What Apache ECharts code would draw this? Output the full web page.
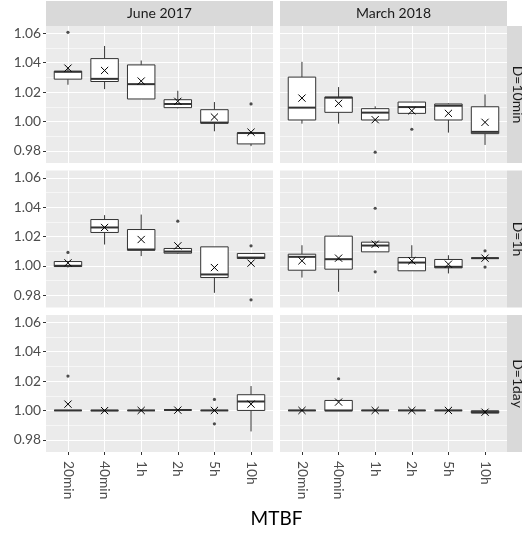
<!DOCTYPE html>
<html>
<head>
<meta charset="utf-8">
<script src="https://cdn.jsdelivr.net/npm/echarts@6/dist/echarts.min.js"></script>
<style>html,body{margin:0;padding:0;background:#fff;}#c{width:522px;height:533px;}</style>
</head>
<body>
<div id="c"></div>
<script>
const categories = ['20min', '40min', '1h', '2h', '5h', '10h'];
const periods = ['June 2017', 'March 2018'];
const durations = ['D=10min', 'D=1h', 'D=1day'];
const yTicks = [0.98, 1.00, 1.02, 1.04, 1.06];
const yMinorTicks = [0.99, 1.01, 1.03, 1.05];
const yRange = [0.9717, 1.065];

// box stats per category: [lower whisker, Q1, median, Q3, upper whisker]
const box_jun_10min = [
  [1.0250, 1.0288, 1.0338, 1.0342, 1.0360],
  [1.0220, 1.0272, 1.0290, 1.0428, 1.0514],
  [1.0153, 1.0153, 1.0254, 1.0385, 1.0415],
  [1.0089, 1.0094, 1.0119, 1.0148, 1.0209],
  [0.9933, 0.9988, 0.9992, 1.0080, 1.0132],
  [0.9832, 0.9847, 0.9921, 0.9922, 0.9922]
];
const mean_jun_10min = [1.0363, 1.0347, 1.0275, 1.0137, 1.0030, 0.9927];
const out_jun_10min = [[1, 1.0607], [6, 1.0119]];

const box_mar_10min = [
  [0.9985, 1.0010, 1.0094, 1.0302, 1.0406],
  [0.9985, 1.0062, 1.0162, 1.0166, 1.0234],
  [1.0010, 1.0010, 1.0060, 1.0087, 1.0103],
  [1.0050, 1.0055, 1.0098, 1.0132, 1.0132],
  [0.9924, 1.0010, 1.0107, 1.0119, 1.0123],
  [0.9840, 0.9917, 0.9929, 1.0100, 1.0184]
];
const mean_mar_10min = [1.0159, 1.0123, 1.0012, 1.0073, 1.0055, 0.9994];
const out_mar_10min = [[3, 0.9791], [4, 0.9947]];

const box_jun_1h = [
  [0.9989, 0.9996, 1.0001, 1.0030, 1.0030],
  [1.0146, 1.0228, 1.0262, 1.0316, 1.0346],
  [1.0067, 1.0107, 1.0112, 1.0248, 1.0350],
  [1.0082, 1.0087, 1.0098, 1.0119, 1.0119],
  [0.9817, 0.9921, 0.9942, 1.0130, 1.0130],
  [1.0051, 1.0051, 1.0057, 1.0085, 1.0085]
];
const mean_jun_1h = [1.0021, 1.0262, 1.0180, 1.0137, 0.9989, 1.0019];
const out_jun_1h = [[1, 1.0092], [4, 1.0305], [6, 1.0137], [6, 0.9769]];

const box_mar_1h = [
  [0.9921, 0.9971, 1.0062, 1.0080, 1.0141],
  [0.9824, 0.9978, 1.0046, 1.0203, 1.0207],
  [1.0096, 1.0096, 1.0139, 1.0162, 1.0171],
  [0.9967, 0.9967, 1.0023, 1.0057, 1.0141],
  [0.9949, 0.9987, 0.9994, 1.0044, 1.0073],
  [1.0053, 1.0053, 1.0053, 1.0053, 1.0053]
];
const mean_mar_1h = [1.0035, 1.0053, 1.0148, 1.0035, 1.0012, 1.0053];
const out_mar_1h = [[3, 1.0393], [3, 0.9960], [6, 1.0103], [6, 0.9992]];

const box_jun_1day = [
  [1.0000, 1.0000, 1.0000, 1.0000, 1.0000],
  [0.9998, 0.9998, 1.0000, 1.0000, 1.0000],
  [1.0000, 1.0000, 1.0000, 1.0000, 1.0000],
  [1.0003, 1.0003, 1.0003, 1.0003, 1.0003],
  [1.0000, 1.0000, 1.0000, 1.0000, 1.0000],
  [0.9857, 1.0000, 1.0061, 1.0107, 1.0166]
];
const mean_jun_1day = [1.0043, 0.9999, 1.0000, 1.0002, 1.0000, 1.0043];
const out_jun_1day = [[1, 1.0234], [5, 1.0075], [5, 0.9909]];

const box_mar_1day = [
  [1.0000, 1.0000, 1.0000, 1.0000, 1.0000],
  [0.9998, 0.9998, 1.0000, 1.0068, 1.0068],
  [1.0000, 1.0000, 1.0000, 1.0000, 1.0000],
  [1.0000, 1.0000, 1.0000, 1.0000, 1.0000],
  [1.0000, 1.0000, 1.0000, 1.0000, 1.0000],
  [0.9980, 0.9982, 0.9989, 0.9998, 1.0000]
];
const mean_mar_1day = [1.0000, 1.0057, 1.0000, 1.0000, 1.0000, 0.9988];
const out_mar_1day = [[2, 1.0216]];

// panel order: row (duration) x column (period)
const panelBoxes = [box_jun_10min, box_mar_10min, box_jun_1h, box_mar_1h, box_jun_1day, box_mar_1day];
const panelMeans = [mean_jun_10min, mean_mar_10min, mean_jun_1h, mean_mar_1h, mean_jun_1day, mean_mar_1day];
const panelOutliers = [out_jun_10min, out_mar_10min, out_jun_1h, out_mar_1h, out_jun_1day, out_mar_1day];

// layout
const colLeft = [46, 280];
const panelW = 227;
const rowTop = [26, 170.5, 315];
const panelH = 137;
const FONT = 'Lato';
const TICK_FS = 13.8;
const catPos = categories.map((c, i) => i + 1);

const chart = echarts.init(document.getElementById('c'), null, {renderer: 'canvas'});

const grids = [], xAxes = [], yAxes = [], series = [];
for (let r = 0; r < 3; r++) {
  for (let c = 0; c < 2; c++) {
    const k = r * 2 + c;
    grids.push({left: colLeft[c], top: rowTop[r], width: panelW, height: panelH,
      show: true, backgroundColor: '#EBEBEB', borderWidth: 0, containLabel: false, outerBoundsMode: 'none'});
    const bottom = r === 2, left = c === 0;
    xAxes.push({
      type: 'value', gridIndex: k, min: 0.4, max: 6.6, position: 'bottom',
      axisLine: {show: false},
      axisTick: {show: bottom, length: 3, customValues: catPos, lineStyle: {color: '#333333', width: 1}},
      axisLabel: {show: bottom, customValues: catPos, rotate: -90, margin: 9,
        formatter: v => categories[Math.round(v) - 1] || '',
        fontFamily: FONT, fontSize: TICK_FS, color: '#4D4D4D'},
      splitLine: {show: true, lineStyle: {color: '#FFFFFF', width: 1.1}}
    });
    yAxes.push({
      type: 'value', gridIndex: k, min: yRange[0], max: yRange[1], position: 'left',
      axisLine: {show: false},
      axisTick: {show: false, customValues: yMinorTicks},
      axisLabel: {show: false},
      splitLine: {show: true, lineStyle: {color: '#FFFFFF', width: 0.55}}
    });
    yAxes.push({
      type: 'value', gridIndex: k, min: yRange[0], max: yRange[1], position: 'left',
      axisLine: {show: false},
      axisTick: {show: left, length: 3, customValues: yTicks, lineStyle: {color: '#333333', width: 1}},
      axisLabel: {show: left, customValues: yTicks, margin: 5, formatter: v => v.toFixed(2),
        fontFamily: FONT, fontSize: TICK_FS, color: '#4D4D4D'},
      splitLine: {show: true, lineStyle: {color: '#FFFFFF', width: 1.1}}
    });
    const data = panelBoxes[k].map((b, i) => [catPos[i], b[0], b[1], b[2], b[3], b[4], panelMeans[k][i]]);
    series.push({
      type: 'custom', xAxisIndex: k, yAxisIndex: 2 * k + 1, data: data, z: 3,
      renderItem: (params, api) => {
        const x = api.value(0);
        const pLow = api.coord([x, api.value(1)]);
        const pQ1 = api.coord([x, api.value(2)]);
        const pMed = api.coord([x, api.value(3)]);
        const pQ3 = api.coord([x, api.value(4)]);
        const pHigh = api.coord([x, api.value(5)]);
        const pMean = api.coord([x, api.value(6)]);
        const hw = api.size([0.75, 0])[0] / 2;
        const cx = pMed[0];
        const stroke = '#333333';
        const m = 3.6;
        return {type: 'group', children: [
          {type: 'line', shape: {x1: cx, y1: pHigh[1], x2: cx, y2: pQ3[1]}, style: {stroke: stroke, lineWidth: 1}},
          {type: 'line', shape: {x1: cx, y1: pQ1[1], x2: cx, y2: pLow[1]}, style: {stroke: stroke, lineWidth: 1}},
          {type: 'rect', shape: {x: cx - hw, y: pQ3[1], width: 2 * hw, height: pQ1[1] - pQ3[1]},
            style: {fill: '#FFFFFF', stroke: stroke, lineWidth: 1}},
          {type: 'line', shape: {x1: cx - hw, y1: pMed[1], x2: cx + hw, y2: pMed[1]}, style: {stroke: stroke, lineWidth: 2}},
          {type: 'line', shape: {x1: pMean[0] - m, y1: pMean[1] - m, x2: pMean[0] + m, y2: pMean[1] + m}, style: {stroke: '#000000', lineWidth: 1}},
          {type: 'line', shape: {x1: pMean[0] - m, y1: pMean[1] + m, x2: pMean[0] + m, y2: pMean[1] - m}, style: {stroke: '#000000', lineWidth: 1}}
        ]};
      }
    });
    series.push({
      type: 'scatter', xAxisIndex: k, yAxisIndex: 2 * k + 1, data: panelOutliers[k],
      symbol: 'circle', symbolSize: 3.2, itemStyle: {color: '#222222'}, z: 4, silent: true
    });
  }
}

const graphics = [];
periods.forEach((p, c) => {
  graphics.push({type: 'rect', shape: {x: colLeft[c], y: 1, width: panelW, height: 25}, style: {fill: '#D9D9D9'}, silent: true});
  graphics.push({type: 'text', x: colLeft[c] + panelW / 2, y: 13.5,
    style: {text: p, align: 'center', verticalAlign: 'middle', font: '14px Lato', fill: '#1A1A1A'}, silent: true});
});
durations.forEach((d, r) => {
  graphics.push({type: 'rect', shape: {x: colLeft[1] + panelW, y: rowTop[r], width: 26, height: panelH}, style: {fill: '#D9D9D9'}, silent: true});
  graphics.push({type: 'text', x: 518, y: rowTop[r] + panelH / 2, rotation: -Math.PI / 2,
    style: {text: d, align: 'center', verticalAlign: 'middle', font: '14px Lato', fill: '#1A1A1A'}, silent: true});
});
graphics.push({type: 'text', x: (colLeft[0] + colLeft[1] + panelW) / 2, y: 519,
  style: {text: 'MTBF', align: 'center', verticalAlign: 'middle', font: '19px Lato', fill: '#000000'}, silent: true});

chart.setOption({
  animation: false,
  backgroundColor: '#FFFFFF',
  grid: grids,
  xAxis: xAxes,
  yAxis: yAxes,
  series: series,
  graphic: graphics
});
</script>
</body>
</html>
